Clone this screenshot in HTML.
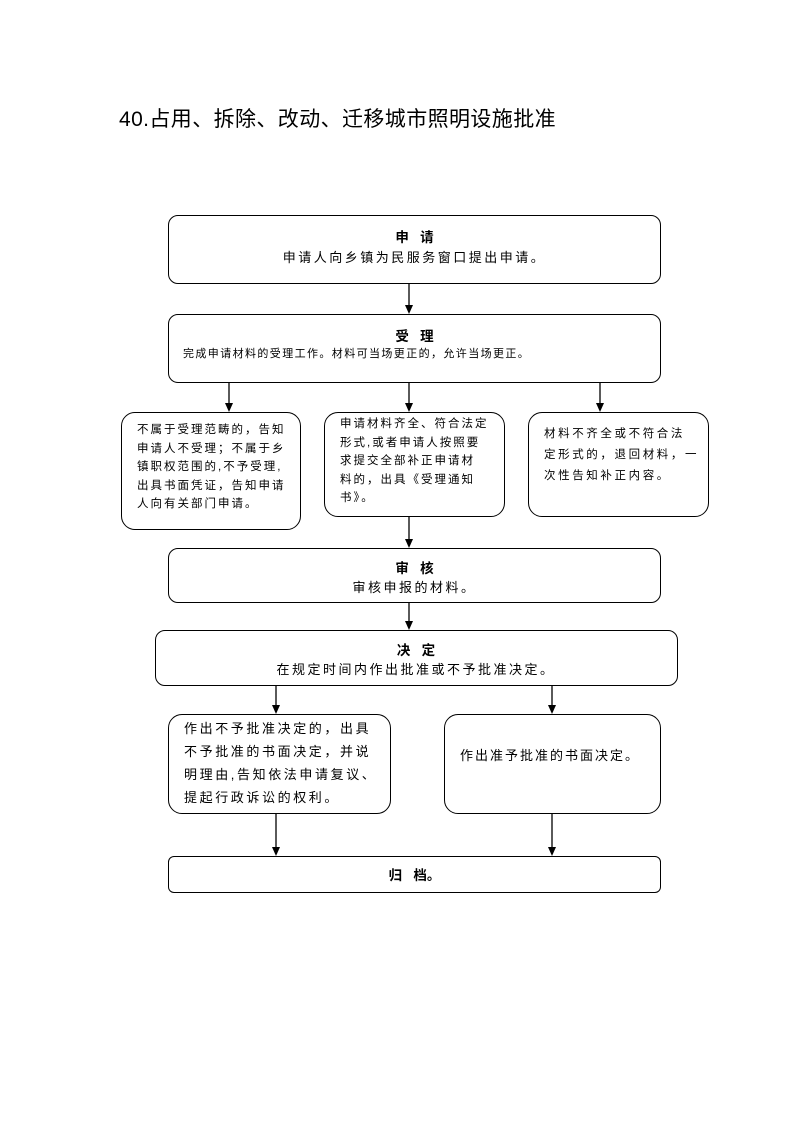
<!DOCTYPE html>
<html><head><meta charset="utf-8"><style>
body{margin:0;width:793px;height:1122px;background:#fff;position:relative;font-family:"Liberation Sans","Noto Sans CJK SC",sans-serif;color:#000;overflow:hidden}
.b{position:absolute;border:1.3px solid #000;border-radius:10px;box-sizing:border-box}
.t{position:absolute;white-space:nowrap}
.s{font-size:11.5px;line-height:18.5px;letter-spacing:2px}
.m{font-size:13px;letter-spacing:2.5px}
.h{font-size:13.5px;font-weight:bold}
</style></head><body>
<div class="t" style="left:119px;top:103px;font-size:21px;letter-spacing:0.4px">40.占用、拆除、改动、迁移城市照明设施批准</div>

<div class="b" style="left:168px;top:215px;width:493px;height:69px"></div>
<div class="t h" style="left:0;width:829px;text-align:center;top:226px">申&nbsp;&nbsp;&nbsp;请</div>
<div class="t m" style="left:0;width:829px;text-align:center;top:247px">申请人向乡镇为民服务窗口提出申请。</div>

<div class="b" style="left:168px;top:314px;width:493px;height:69px"></div>
<div class="t h" style="left:0;width:829px;text-align:center;top:325px">受&nbsp;&nbsp;&nbsp;理</div>
<div class="t" style="left:183px;top:345px;font-size:11px;letter-spacing:1.4px">完成申请材料的受理工作。材料可当场更正的，允许当场更正。</div>

<div class="b" style="left:121px;top:412px;width:180px;height:118px;border-radius:14px"></div>
<div class="t s" style="left:137px;top:421px">不属于受理范畴的，告知<br>申请人不受理；不属于乡<br>镇职权范围的,不予受理,<br>出具书面凭证，告知申请<br>人向有关部门申请。</div>
<div class="b" style="left:324px;top:412px;width:181px;height:105px;border-radius:14px"></div>
<div class="t s" style="left:340px;top:415px">申请材料齐全、符合法定<br>形式,或者申请人按照要<br>求提交全部补正申请材<br>料的，出具《受理通知<br>书》。</div>
<div class="b" style="left:528px;top:412px;width:181px;height:105px;border-radius:14px"></div>
<div class="t s" style="left:544px;top:424px;line-height:21px;letter-spacing:2.6px">材料不齐全或不符合法<br>定形式的，退回材料，一<br>次性告知补正内容。</div>

<div class="b" style="left:168px;top:548px;width:493px;height:55px"></div>
<div class="t h" style="left:0;width:829px;text-align:center;top:557px">审&nbsp;&nbsp;&nbsp;核</div>
<div class="t m" style="left:0;width:829px;text-align:center;top:577px">审核申报的材料。</div>

<div class="b" style="left:155px;top:630px;width:523px;height:56px"></div>
<div class="t h" style="left:0;width:832px;text-align:center;top:639px">决&nbsp;&nbsp;&nbsp;定</div>
<div class="t m" style="left:0;width:832px;text-align:center;top:659px">在规定时间内作出批准或不予批准决定。</div>

<div class="b" style="left:168px;top:714px;width:223px;height:100px;border-radius:14px"></div>
<div class="t m" style="left:184px;top:717px;line-height:23px;letter-spacing:2.6px">作出不予批准决定的，出具<br>不予批准的书面决定，并说<br>明理由,告知依法申请复议、<br>提起行政诉讼的权利。</div>
<div class="b" style="left:444px;top:714px;width:217px;height:100px;border-radius:14px"></div>
<div class="t m" style="left:460px;top:745px;letter-spacing:2px">作出准予批准的书面决定。</div>

<div class="b" style="left:168px;top:856px;width:493px;height:37px;border-radius:6px"></div>
<div class="t h" style="left:0;width:829px;text-align:center;top:864px">归&nbsp;&nbsp;&nbsp;档。</div>

<svg width="793" height="1122" style="position:absolute;left:0;top:0">
<g stroke="#000" stroke-width="1.3">
<line x1="409" y1="284" x2="409" y2="306"/>
<line x1="229" y1="383" x2="229" y2="404"/>
<line x1="409" y1="383" x2="409" y2="404"/>
<line x1="600" y1="383" x2="600" y2="404"/>
<line x1="409" y1="517" x2="409" y2="540"/>
<line x1="409" y1="603" x2="409" y2="622"/>
<line x1="276" y1="686" x2="276" y2="706"/>
<line x1="552" y1="686" x2="552" y2="706"/>
<line x1="276" y1="814" x2="276" y2="848"/>
<line x1="552" y1="814" x2="552" y2="848"/>
</g>
<g fill="#000">
<path d="M405,305 L413,305 L409,314z"/>
<path d="M225,403 L233,403 L229,412z"/>
<path d="M405,403 L413,403 L409,412z"/>
<path d="M596,403 L604,403 L600,412z"/>
<path d="M405,539 L413,539 L409,548z"/>
<path d="M405,621 L413,621 L409,630z"/>
<path d="M272,705 L280,705 L276,714z"/>
<path d="M548,705 L556,705 L552,714z"/>
<path d="M272,847 L280,847 L276,856z"/>
<path d="M548,847 L556,847 L552,856z"/>
</g></svg>
</body></html>
